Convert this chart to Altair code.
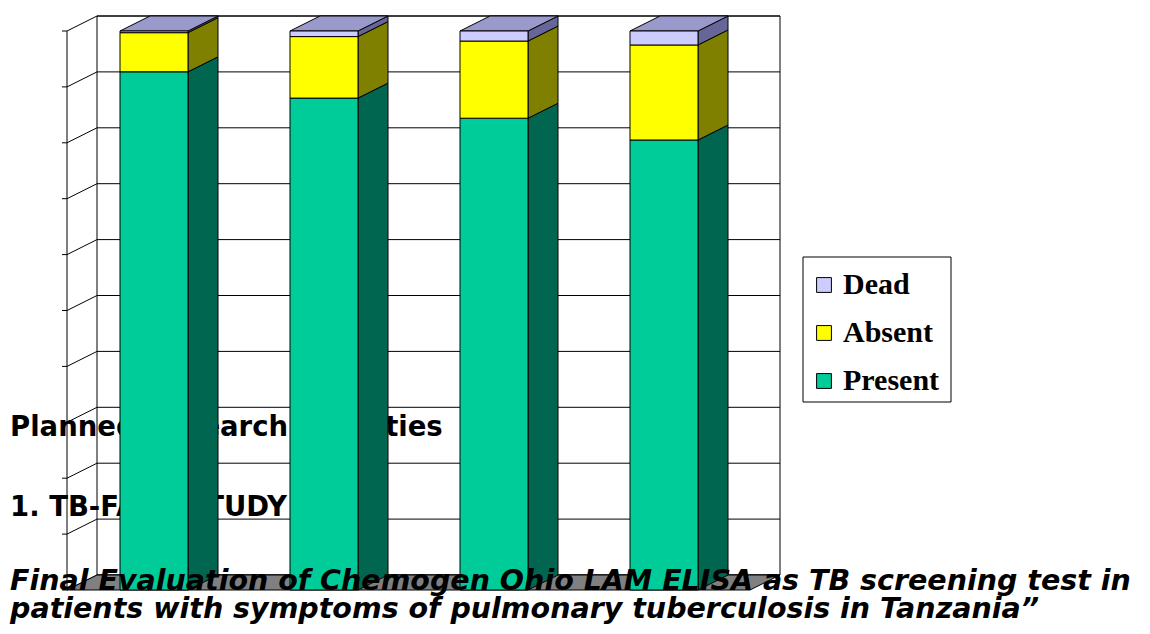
import pandas as pd
import altair as alt

# stacked shares (% of cohort) per follow-up visit
visits = ["V1", "V2", "V3", "V4"]
present = [92.7, 88.0, 84.4, 80.5]
absent = [7.0, 11.0, 13.8, 17.0]
dead = [0.3, 1.0, 1.8, 2.5]

series = ["Present", "Absent", "Dead"]
front = {"Present": "#00CC99", "Absent": "#FFFF00", "Dead": "#CCCCFF"}
side = {"Present": "#006650", "Absent": "#808000", "Dead": "#666699"}
topc = "#9999CC"

# layout in page pixels
Y0, PX = 590, 5.59          # floor of front face, px per percent
DX, DY = 30, 15             # 3D depth offset
BAR_L = [120, 290, 460, 630]
BAR_W = 68
WALL_L, WALL_R = 97, 780


def py(v):
    return Y0 - PX * v


rects, sides, tops = [], [], []
for i, v in enumerate(visits):
    base = 0
    vals = {"Present": present[i], "Absent": absent[i], "Dead": dead[i]}
    for s in series:
        y1, y2 = py(base), py(base + vals[s])
        xl = BAR_L[i]
        xr = xl + BAR_W
        rects.append(dict(x=xl, x2=xr, y=y1, y2=y2, s=s, c=front[s]))
        sides.append(dict(k=f"{v}{s}", x=xr, y=y1, y2=y2, c=side[s]))
        sides.append(dict(k=f"{v}{s}", x=xr + DX, y=y1 - DY, y2=y2 - DY, c=side[s]))
        base += vals[s]
    yt = py(base)
    tops.append(dict(k=v, y=yt, x=BAR_L[i], x2=BAR_L[i] + BAR_W))
    tops.append(dict(k=v, y=yt - DY, x=BAR_L[i] + DX, x2=BAR_L[i] + BAR_W + DX))

X = alt.Scale(domain=[8, 1142], nice=False)
Y = alt.Scale(domain=[626, 8], nice=False)
noax = dict(axis=None)

# back wall and grid
grid_vals = list(range(0, 110, 10))
grid = pd.DataFrame([dict(y=py(g) - DY, x=WALL_L, x2=WALL_R) for g in grid_vals])
wall = alt.Chart(pd.DataFrame([dict(x=WALL_L, x2=WALL_R, y=py(0) - DY, y2=py(100) - DY)])).mark_rect(
    fill="white", stroke="black", strokeWidth=1
).encode(x=alt.X("x:Q", scale=X, **noax), x2="x2", y=alt.Y("y:Q", scale=Y, **noax), y2="y2")
gridl = alt.Chart(grid).mark_rule(color="black", strokeWidth=1).encode(
    x=alt.X("x:Q", scale=X, **noax), x2="x2", y=alt.Y("y:Q", scale=Y, **noax))
# left wall lines
lw = pd.DataFrame([dict(k=g, x=WALL_L - DX, y=py(g)) for g in grid_vals] +
                  [dict(k=g, x=WALL_L, y=py(g) - DY) for g in grid_vals])
leftw = alt.Chart(lw).mark_line(color="black", strokeWidth=1).encode(
    x=alt.X("x:Q", scale=X, **noax), y=alt.Y("y:Q", scale=Y, **noax), detail="k:N")
lv = pd.DataFrame([dict(x=WALL_L - DX, y=py(0), y2=py(100))])
leftv = alt.Chart(lv).mark_rule(color="black").encode(
    x=alt.X("x:Q", scale=X, **noax), y=alt.Y("y:Q", scale=Y, **noax), y2="y2")
ticks = pd.DataFrame([dict(x=WALL_L - DX - 5, x2=WALL_L - DX, y=py(g)) for g in grid_vals])
tickm = alt.Chart(ticks).mark_rule(color="black").encode(
    x=alt.X("x:Q", scale=X, **noax), x2="x2", y=alt.Y("y:Q", scale=Y, **noax))
# floor
floor = pd.DataFrame([dict(y=py(0), x=WALL_L - DX, x2=WALL_R - DX),
                      dict(y=py(0) - DY, x=WALL_L, x2=WALL_R)])
floorm = alt.Chart(floor).mark_area(orient="horizontal", color="#808080", stroke="black").encode(
    y=alt.Y("y:Q", scale=Y, **noax), x=alt.X("x:Q", scale=X, **noax), x2="x2")

txt = pd.DataFrame([
    dict(x=10, y=428, t="Planned Research Activities"),
    dict(x=10, y=508, t="1. TB-FAST STUDY"),
])
heads = alt.Chart(txt).mark_text(align="left", baseline="middle", font="DejaVu Sans",
                                 fontWeight="bold", fontSize=27.5, color="black").encode(
    x=alt.X("x:Q", scale=X, **noax), y=alt.Y("y:Q", scale=Y, **noax), text="t:N")
txt2 = pd.DataFrame([
    dict(x=10, y=581, t="Final Evaluation of Chemogen Ohio LAM ELISA as TB screening test in"),
    dict(x=10, y=609, t="patients with symptoms of pulmonary tuberculosis in Tanzania\u201d"),
])
italic = alt.Chart(txt2).mark_text(align="left", baseline="middle", font="DejaVu Sans",
                                   fontWeight="bold", fontStyle="italic", fontSize=28.5, color="black").encode(
    x=alt.X("x:Q", scale=X, **noax), y=alt.Y("y:Q", scale=Y, **noax), text="t:N")

bars = alt.Chart(pd.DataFrame(rects)).mark_rect(stroke="black", strokeWidth=1).encode(
    x=alt.X("x:Q", scale=X, **noax), x2="x2", y=alt.Y("y:Q", scale=Y, **noax), y2="y2",
    fill=alt.Fill("c:N", scale=None))
sidem = alt.Chart(pd.DataFrame(sides)).mark_area(stroke="black", strokeWidth=1).encode(
    x=alt.X("x:Q", scale=X, **noax), y=alt.Y("y:Q", scale=Y, **noax), y2="y2",
    fill=alt.Fill("c:N", scale=None), detail="k:N")
topm = alt.Chart(pd.DataFrame(tops)).mark_area(orient="horizontal", fill=topc, stroke="black").encode(
    y=alt.Y("y:Q", scale=Y, **noax), x=alt.X("x:Q", scale=X, **noax), x2="x2", detail="k:N")

# legend
leg_items = pd.DataFrame([dict(y=285, t="Dead", c=front["Dead"]),
                          dict(y=333, t="Absent", c=front["Absent"]),
                          dict(y=381, t="Present", c=front["Present"])])
legbox = alt.Chart(pd.DataFrame([dict(x=803, x2=951, y=257, y2=402)])).mark_rect(
    fill="white", stroke="black").encode(
    x=alt.X("x:Q", scale=X, **noax), x2="x2", y=alt.Y("y:Q", scale=Y, **noax), y2="y2")
legsq = alt.Chart(leg_items).mark_square(size=220, stroke="black", strokeWidth=1, opacity=1).encode(
    x=alt.value(816), y=alt.Y("y:Q", scale=Y, **noax), fill=alt.Fill("c:N", scale=None))
legtx = alt.Chart(leg_items).mark_text(align="left", baseline="middle", font="Liberation Serif",
                                       fontWeight="bold", fontSize=30).encode(
    x=alt.value(835), y=alt.Y("y:Q", scale=Y, **noax), text="t:N")

chart = alt.layer(
    wall, gridl, leftw, leftv, tickm, floorm, heads, sidem, topm, bars, italic, legbox, legsq, legtx
).properties(width=1134, height=618, autosize="none", padding=0).configure_view(stroke=None)

chart.save("out.html", embed_options={"renderer": "svg", "actions": False})
